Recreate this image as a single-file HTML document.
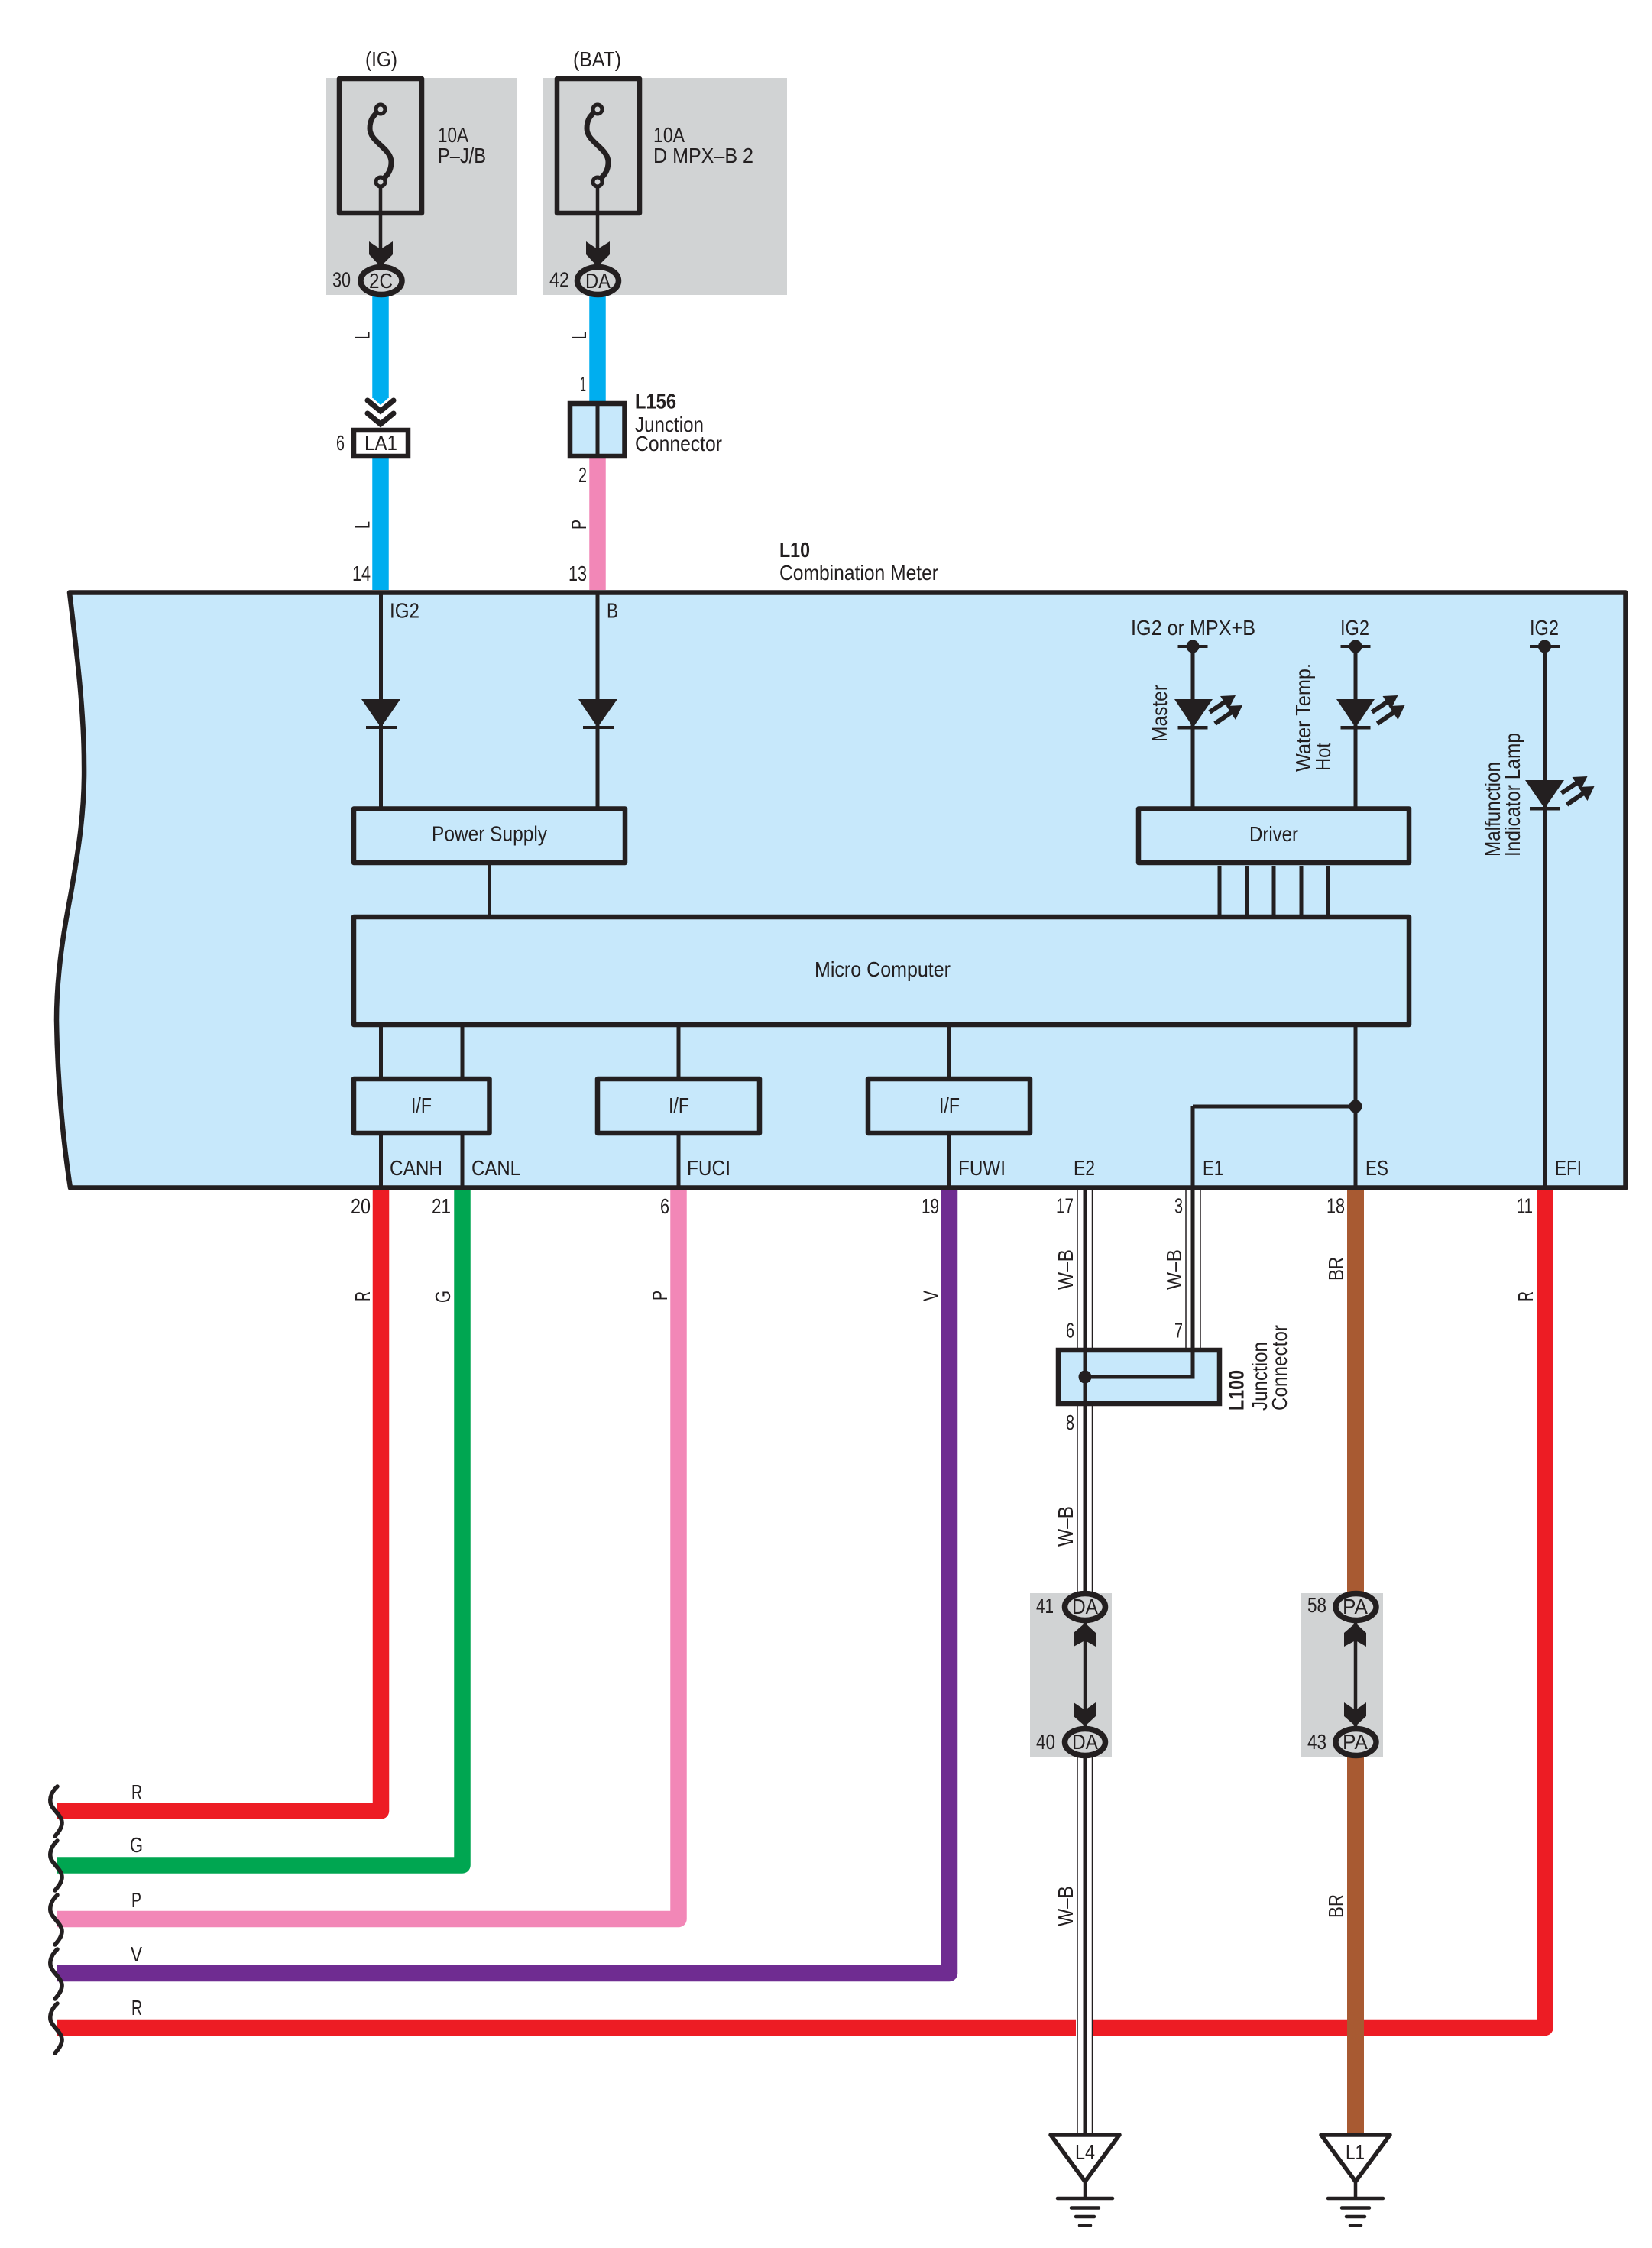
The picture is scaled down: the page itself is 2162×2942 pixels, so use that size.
<!DOCTYPE html>
<html><head><meta charset="utf-8"><title>Combination Meter wiring diagram</title>
<style>
html,body{margin:0;padding:0;background:#fff}
svg{display:block}
text{font-family:"Liberation Sans",Arial,sans-serif;font-size:27.5px;fill:#231f20}
.b{font-weight:bold}
.k{fill:none;stroke:#231f20;stroke-width:5}
.box{fill:none;stroke:#231f20;stroke-width:6.5;stroke-linejoin:round}
.w{fill:none;stroke-width:21.5;stroke-linejoin:round;stroke-linecap:butt}
.sq{fill:none;stroke:#231f20;stroke-width:5.5;stroke-linecap:round}
.ov{fill:#d1d3d4;stroke:#231f20;stroke-width:7.5}
.fk{fill:#231f20}
</style></head><body>
<svg xmlns="http://www.w3.org/2000/svg" width="2162" height="2942" viewBox="0 0 2162 2942">
<rect width="2162" height="2942" fill="#fff"/>

<!-- grey regions -->
<rect x="427" y="102" width="249" height="284" fill="#d1d3d4"/>
<rect x="711" y="102" width="319" height="284" fill="#d1d3d4"/>

<!-- main component -->
<path d="M91 775.500H2127.500V1554.500H92C82 1490 75 1410 74 1335C74 1270 85 1210 93 1168C103 1110 111 1060 110 1000C110 930 100 850 91 775.500Z" fill="#c7e8fb" stroke="#231f20" stroke-width="6.500" stroke-linejoin="round"/>

<!-- top wires -->
<path class="w" stroke="#00aeef" d="M498 386V521"/>
<path d="M487 520L498 530L509 520Z" fill="#00aeef"/>
<path class="w" stroke="#00aeef" d="M498 600V772"/>
<path class="w" stroke="#00aeef" d="M782 386V526"/>
<path class="w" stroke="#f287b7" d="M782 600V772"/>

<!-- lower wires -->
<path class="w" stroke="#ed1c24" d="M498.500 1558V2370H75"/>
<path class="w" stroke="#00a651" d="M605 1558V2441H75"/>
<path class="w" stroke="#f287b7" d="M888 1558V2511.500H75"/>
<path class="w" stroke="#6f2c91" d="M1242.500 1558V2582.500H75"/>
<path class="w" stroke="#ed1c24" d="M2022 1558V2653.500H1431"/>
<path class="w" stroke="#ed1c24" d="M1408 2653.500H75"/>

<!-- brown wire -->
<path d="M1774 1558V2090M1774 2295V2792" fill="none" stroke="#a85a32" stroke-width="22"/>

<!-- W-B wires -->
<g fill="none" stroke="#231f20" stroke-width="1.500">
<path d="M1410 1558V2090M1429.500 1558V2090M1410 2295V2792M1429.500 2295V2792"/>
<path d="M1552 1558V1768M1571 1558V1768"/>
</g>
<path class="k" d="M1420 1558V2090M1420 2295V2792"/>
<path class="k" d="M1561 1448V1802H1420"/>

<!-- squiggles -->
<path class="sq" d="M75 2338C65 2347 64 2358 68 2364C73 2372 82 2378 81 2387C80 2394 76 2398 72 2403"/>
<path class="sq" d="M75 2409C65 2418 64 2429 68 2435C73 2443 82 2449 81 2458C80 2465 76 2469 72 2474"/>
<path class="sq" d="M75 2480C65 2489 64 2500 68 2506C73 2514 82 2520 81 2529C80 2536 76 2540 72 2545"/>
<path class="sq" d="M75 2551C65 2560 64 2571 68 2577C73 2585 82 2591 81 2600C80 2607 76 2611 72 2616"/>
<path class="sq" d="M75 2622C65 2631 64 2642 68 2648C73 2656 82 2662 81 2671C80 2678 76 2682 72 2687"/>

<!-- connector grey regions -->
<rect x="1348" y="2085" width="107" height="214.500" fill="#d1d3d4"/>
<rect x="1703" y="2085" width="107" height="214.500" fill="#d1d3d4"/>

<!-- fuses -->
<rect class="box" x="444" y="103" width="108" height="176"/>
<rect class="box" x="729" y="103" width="108" height="176"/>
<g fill="none" stroke="#231f20" stroke-width="7">
<path d="M498 143C490 150 484 155 484 168C484 186 512 194 512 212C512 225 506 230 498 238"/>
<path d="M782 143C774 150 768 155 768 168C768 186 796 194 796 212C796 225 790 230 782 238"/>
<circle cx="498" cy="143" r="6" fill="#d1d3d4" stroke-width="5"/>
<circle cx="498" cy="238" r="6" fill="#d1d3d4" stroke-width="5"/>
<circle cx="782" cy="143" r="6" fill="#d1d3d4" stroke-width="5"/>
<circle cx="782" cy="238" r="6" fill="#d1d3d4" stroke-width="5"/>
</g>
<path class="k" d="M498 244V330M782 244V330" style="stroke-width:4.500"/>
<path class="fk" d="M483 316L498 326L514 316V333L498 349L483 333Z"/>
<path class="fk" d="M767 316L782 326L798 316V333L782 349L767 333Z"/>

<ellipse class="ov" cx="499" cy="367.500" rx="27" ry="18"/>
<ellipse class="ov" cx="782.500" cy="367.500" rx="27" ry="18"/>

<!-- LA1 & L156 -->
<path d="M481 524L498 538L515 524M481 541L498 555L515 541" fill="none" stroke="#231f20" stroke-width="7" stroke-linecap="round"/>
<rect x="463" y="563" width="71" height="34" fill="#fff" stroke="#231f20" stroke-width="6.500"/>
<rect x="746" y="528" width="71.500" height="69" fill="#c7e8fb" stroke="#231f20" stroke-width="6.500"/>
<path class="k" d="M782 528V597"/>

<!-- inner lines -->
<g class="k">
<path d="M498.500 778V1058M782 778V1058"/>
<path d="M640.500 1129V1200"/>
<path d="M498.500 1341V1412M605 1341V1412"/>
<path d="M498.500 1483V1552M605 1483V1552"/>
<path d="M888 1341V1412M888 1483V1552"/>
<path d="M1242.500 1341V1412M1242.500 1483V1552"/>
<path d="M1561 846V1058M1774 846V1058"/>
<path d="M1774 1341V1552"/>
<path d="M2021.500 846V1552"/>
<path d="M1596 1133V1200M1632 1133V1200M1667 1133V1200M1703 1133V1200M1738 1133V1200"/>
<path d="M1561 1448H1774"/>
</g>

<!-- boxes -->
<rect class="box" x="463" y="1058.500" width="355" height="70.500"/>
<rect class="box" x="1490" y="1058.500" width="354" height="70.500"/>
<rect class="box" x="463" y="1200" width="1381" height="141"/>
<rect class="box" x="463" y="1412" width="177.500" height="71"/>
<rect class="box" x="782" y="1412" width="212" height="71"/>
<rect class="box" x="1136" y="1412" width="212" height="71"/>

<!-- diodes -->
<g class="fk">
<path d="M473 915H524L498.500 952Z"/><rect x="479" y="950" width="40" height="4"/>
<path d="M757 915H808L782 952Z"/><rect x="763" y="950" width="40" height="4"/>
<path d="M1537 915H1587L1561.500 952Z"/><rect x="1541.500" y="950" width="39" height="4.500"/>
<path d="M1749 915H1799L1774 952Z"/><rect x="1754.500" y="950" width="39" height="4.500"/>
<path d="M1996 1021H2047L2021.500 1058Z"/><rect x="2002" y="1056" width="39" height="4.500"/>
<!-- terminals -->
<circle cx="1561" cy="846" r="8.500"/><rect x="1541.500" y="844" width="39" height="4"/>
<circle cx="1774" cy="846" r="8.500"/><rect x="1754.500" y="844" width="39" height="4"/>
<circle cx="2021.500" cy="846" r="8.500"/><rect x="2002" y="844" width="39" height="4"/>
<!-- dots -->
<circle cx="1774" cy="1448" r="8.500"/>
</g>

<!-- LED arrows -->
<defs>
<g id="led">
<path d="M1583 932L1604 918" fill="none" stroke="#231f20" stroke-width="6"/>
<path d="M1597 911L1617 910L1608 928Z" fill="#231f20"/>
<path d="M1590 947L1612 932" fill="none" stroke="#231f20" stroke-width="6"/>
<path d="M1605 924L1626 923L1617 942Z" fill="#231f20"/>
</g>
</defs>
<use href="#led"/>
<use href="#led" transform="translate(212.500,0)"/>
<use href="#led" transform="translate(460.500,106)"/>

<!-- L100 -->
<rect x="1385" y="1767" width="211" height="70" fill="#c7e8fb" stroke="#231f20" stroke-width="6.500"/>
<path class="k" d="M1420 1767V1837M1561 1767V1802H1420"/>
<ellipse class="fk" cx="1420" cy="1802" rx="8.500" ry="8.500"/>

<!-- mid connectors -->
<g fill="none" stroke="#231f20">
<path d="M1420 2124V2259M1774 2124V2259" stroke-width="4.500"/>
</g>
<path class="fk" d="M1420 2124L1434 2137V2155L1420 2147L1405 2155V2137Z"/>
<path class="fk" d="M1420 2259L1434 2246V2228L1420 2238L1405 2228V2246Z"/>
<path class="fk" d="M1774 2124L1788 2137V2155L1774 2147L1759 2155V2137Z"/>
<path class="fk" d="M1774 2259L1788 2246V2228L1774 2238L1759 2228V2246Z"/>
<ellipse class="ov" cx="1420" cy="2103" rx="26.500" ry="17.500"/>
<ellipse class="ov" cx="1420" cy="2280" rx="26.500" ry="17.500"/>
<ellipse class="ov" cx="1774.500" cy="2103" rx="26.500" ry="17.500"/>
<ellipse class="ov" cx="1774.500" cy="2280" rx="26.500" ry="17.500"/>

<!-- grounds -->
<g fill="#fff" stroke="#231f20" stroke-width="5.500" stroke-linejoin="round">
<path d="M1375 2794H1465L1420 2855Z"/>
<path d="M1729 2794H1819L1774 2855Z"/>
</g>
<g fill="none" stroke="#231f20" stroke-width="4.500" stroke-linecap="round">
<path d="M1420 2855V2877M1384 2877H1456M1402 2889.500H1438M1408 2901H1432M1413 2912.500H1427"/>
<path d="M1774 2855V2877M1738 2877H1810M1756 2889.500H1792M1762 2901H1786M1767 2912.500H1781"/>
</g>

<!-- TEXT top -->
<text x="478" y="87" textLength="42" lengthAdjust="spacingAndGlyphs">(IG)</text>
<text x="750" y="87" textLength="63" lengthAdjust="spacingAndGlyphs">(BAT)</text>
<text x="573" y="186" textLength="40" lengthAdjust="spacingAndGlyphs">10A</text>
<text x="573" y="213" textLength="63" lengthAdjust="spacingAndGlyphs">P–J/B</text>
<text x="855" y="186" textLength="41" lengthAdjust="spacingAndGlyphs">10A</text>
<text x="855" y="213" textLength="131" lengthAdjust="spacingAndGlyphs">D MPX–B 2</text>
<text x="435" y="375.500" textLength="24" lengthAdjust="spacingAndGlyphs">30</text>
<text x="719" y="375.500" textLength="26" lengthAdjust="spacingAndGlyphs">42</text>
<text x="483" y="377" textLength="31" lengthAdjust="spacingAndGlyphs">2C</text>
<text x="766" y="377" textLength="33" lengthAdjust="spacingAndGlyphs">DA</text>
<text x="440" y="589" textLength="11" lengthAdjust="spacingAndGlyphs">6</text>
<text x="477" y="589" textLength="43" lengthAdjust="spacingAndGlyphs">LA1</text>
<text x="759" y="512" textLength="8" lengthAdjust="spacingAndGlyphs">1</text>
<text x="757" y="631" textLength="11" lengthAdjust="spacingAndGlyphs">2</text>
<text x="461" y="760" textLength="24" lengthAdjust="spacingAndGlyphs">14</text>
<text x="744" y="760" textLength="24" lengthAdjust="spacingAndGlyphs">13</text>
<text class="b" x="831" y="534.500" textLength="54" lengthAdjust="spacingAndGlyphs">L156</text>
<text x="831" y="565" textLength="90" lengthAdjust="spacingAndGlyphs">Junction</text>
<text x="831" y="590" textLength="114" lengthAdjust="spacingAndGlyphs">Connector</text>
<text class="b" x="1020" y="729" textLength="40" lengthAdjust="spacingAndGlyphs">L10</text>
<text x="1020" y="759" textLength="208" lengthAdjust="spacingAndGlyphs">Combination Meter</text>
<text transform="translate(483.500,444) rotate(-90)" textLength="10" lengthAdjust="spacingAndGlyphs">L</text>
<text transform="translate(483.500,692) rotate(-90)" textLength="10" lengthAdjust="spacingAndGlyphs">L</text>
<text transform="translate(767,444) rotate(-90)" textLength="10" lengthAdjust="spacingAndGlyphs">L</text>
<text transform="translate(767,693) rotate(-90)" textLength="13" lengthAdjust="spacingAndGlyphs">P</text>

<!-- TEXT inside -->
<text x="510" y="808.500" textLength="39" lengthAdjust="spacingAndGlyphs">IG2</text>
<text x="794" y="808.500" textLength="15" lengthAdjust="spacingAndGlyphs">B</text>
<text x="1480" y="831" textLength="163" lengthAdjust="spacingAndGlyphs">IG2 or MPX+B</text>
<text x="1754" y="831" textLength="38" lengthAdjust="spacingAndGlyphs">IG2</text>
<text x="2002" y="831" textLength="38" lengthAdjust="spacingAndGlyphs">IG2</text>
<text transform="translate(1527,971) rotate(-90)" textLength="75" lengthAdjust="spacingAndGlyphs">Master</text>
<text transform="translate(1715,1010) rotate(-90)" textLength="142" lengthAdjust="spacingAndGlyphs">Water Temp.</text>
<text transform="translate(1741,1009) rotate(-90)" textLength="37" lengthAdjust="spacingAndGlyphs">Hot</text>
<text transform="translate(1963,1121) rotate(-90)" textLength="124" lengthAdjust="spacingAndGlyphs">Malfunction</text>
<text transform="translate(1989,1121) rotate(-90)" textLength="162" lengthAdjust="spacingAndGlyphs">Indicator Lamp</text>
<text x="565" y="1100.500" textLength="151" lengthAdjust="spacingAndGlyphs">Power Supply</text>
<text x="1635" y="1101" textLength="64" lengthAdjust="spacingAndGlyphs">Driver</text>
<text x="1066" y="1278" textLength="178" lengthAdjust="spacingAndGlyphs">Micro Computer</text>
<text x="538" y="1456" textLength="27" lengthAdjust="spacingAndGlyphs">I/F</text>
<text x="875" y="1456" textLength="27" lengthAdjust="spacingAndGlyphs">I/F</text>
<text x="1229" y="1456" textLength="27" lengthAdjust="spacingAndGlyphs">I/F</text>
<text x="510" y="1538" textLength="69" lengthAdjust="spacingAndGlyphs">CANH</text>
<text x="617" y="1538" textLength="64" lengthAdjust="spacingAndGlyphs">CANL</text>
<text x="899" y="1538" textLength="57" lengthAdjust="spacingAndGlyphs">FUCI</text>
<text x="1254" y="1538" textLength="62" lengthAdjust="spacingAndGlyphs">FUWI</text>
<text x="1405" y="1538" textLength="28" lengthAdjust="spacingAndGlyphs">E2</text>
<text x="1574" y="1538" textLength="27" lengthAdjust="spacingAndGlyphs">E1</text>
<text x="1787" y="1538" textLength="30" lengthAdjust="spacingAndGlyphs">ES</text>
<text x="2035" y="1538" textLength="35" lengthAdjust="spacingAndGlyphs">EFI</text>

<!-- TEXT lower -->
<text x="459" y="1588" textLength="26" lengthAdjust="spacingAndGlyphs">20</text>
<text x="565" y="1588" textLength="25" lengthAdjust="spacingAndGlyphs">21</text>
<text x="864" y="1588" textLength="12" lengthAdjust="spacingAndGlyphs">6</text>
<text x="1206" y="1588" textLength="23" lengthAdjust="spacingAndGlyphs">19</text>
<text x="1382" y="1587.500" textLength="23" lengthAdjust="spacingAndGlyphs">17</text>
<text x="1537" y="1587.500" textLength="11" lengthAdjust="spacingAndGlyphs">3</text>
<text x="1736" y="1587.500" textLength="24" lengthAdjust="spacingAndGlyphs">18</text>
<text x="1985" y="1587.500" textLength="21" lengthAdjust="spacingAndGlyphs">11</text>
<text x="1395" y="1750.500" textLength="11" lengthAdjust="spacingAndGlyphs">6</text>
<text x="1537" y="1750.500" textLength="11" lengthAdjust="spacingAndGlyphs">7</text>
<text x="1395" y="1871" textLength="11" lengthAdjust="spacingAndGlyphs">8</text>
<text transform="translate(484,1703) rotate(-90)" textLength="13" lengthAdjust="spacingAndGlyphs">R</text>
<text transform="translate(589,1705) rotate(-90)" textLength="16" lengthAdjust="spacingAndGlyphs">G</text>
<text transform="translate(873,1702) rotate(-90)" textLength="13" lengthAdjust="spacingAndGlyphs">P</text>
<text transform="translate(1227.500,1703) rotate(-90)" textLength="14" lengthAdjust="spacingAndGlyphs">V</text>
<text transform="translate(2006,1703) rotate(-90)" textLength="13" lengthAdjust="spacingAndGlyphs">R</text>
<text transform="translate(1404,1688) rotate(-90)" textLength="53" lengthAdjust="spacingAndGlyphs">W–B</text>
<text transform="translate(1546,1688) rotate(-90)" textLength="53" lengthAdjust="spacingAndGlyphs">W–B</text>
<text transform="translate(1404,2024) rotate(-90)" textLength="53" lengthAdjust="spacingAndGlyphs">W–B</text>
<text transform="translate(1404,2521) rotate(-90)" textLength="53" lengthAdjust="spacingAndGlyphs">W–B</text>
<text transform="translate(1758,1676) rotate(-90)" textLength="31" lengthAdjust="spacingAndGlyphs">BR</text>
<text transform="translate(1758,2510) rotate(-90)" textLength="31" lengthAdjust="spacingAndGlyphs">BR</text>
<text class="b" transform="translate(1627.500,1846) rotate(-90)" textLength="53" lengthAdjust="spacingAndGlyphs">L100</text>
<text transform="translate(1658,1846) rotate(-90)" textLength="90" lengthAdjust="spacingAndGlyphs">Junction</text>
<text transform="translate(1684,1846) rotate(-90)" textLength="112" lengthAdjust="spacingAndGlyphs">Connector</text>

<text x="1356" y="2111" textLength="23" lengthAdjust="spacingAndGlyphs">41</text>
<text x="1356" y="2289" textLength="25" lengthAdjust="spacingAndGlyphs">40</text>
<text x="1711" y="2110" textLength="25" lengthAdjust="spacingAndGlyphs">58</text>
<text x="1711" y="2289" textLength="25" lengthAdjust="spacingAndGlyphs">43</text>
<text x="1403" y="2112" textLength="34" lengthAdjust="spacingAndGlyphs">DA</text>
<text x="1403" y="2289" textLength="34" lengthAdjust="spacingAndGlyphs">DA</text>
<text x="1757" y="2112" textLength="33" lengthAdjust="spacingAndGlyphs">PA</text>
<text x="1757" y="2289" textLength="33" lengthAdjust="spacingAndGlyphs">PA</text>
<text x="1407" y="2826" textLength="26" lengthAdjust="spacingAndGlyphs">L4</text>
<text x="1761" y="2826" textLength="25" lengthAdjust="spacingAndGlyphs">L1</text>

<text x="172" y="2355" textLength="14" lengthAdjust="spacingAndGlyphs">R</text>
<text x="170" y="2424" textLength="17" lengthAdjust="spacingAndGlyphs">G</text>
<text x="172" y="2496" textLength="13" lengthAdjust="spacingAndGlyphs">P</text>
<text x="171" y="2567" textLength="15" lengthAdjust="spacingAndGlyphs">V</text>
<text x="172" y="2637" textLength="14" lengthAdjust="spacingAndGlyphs">R</text>
</svg>
</body></html>
